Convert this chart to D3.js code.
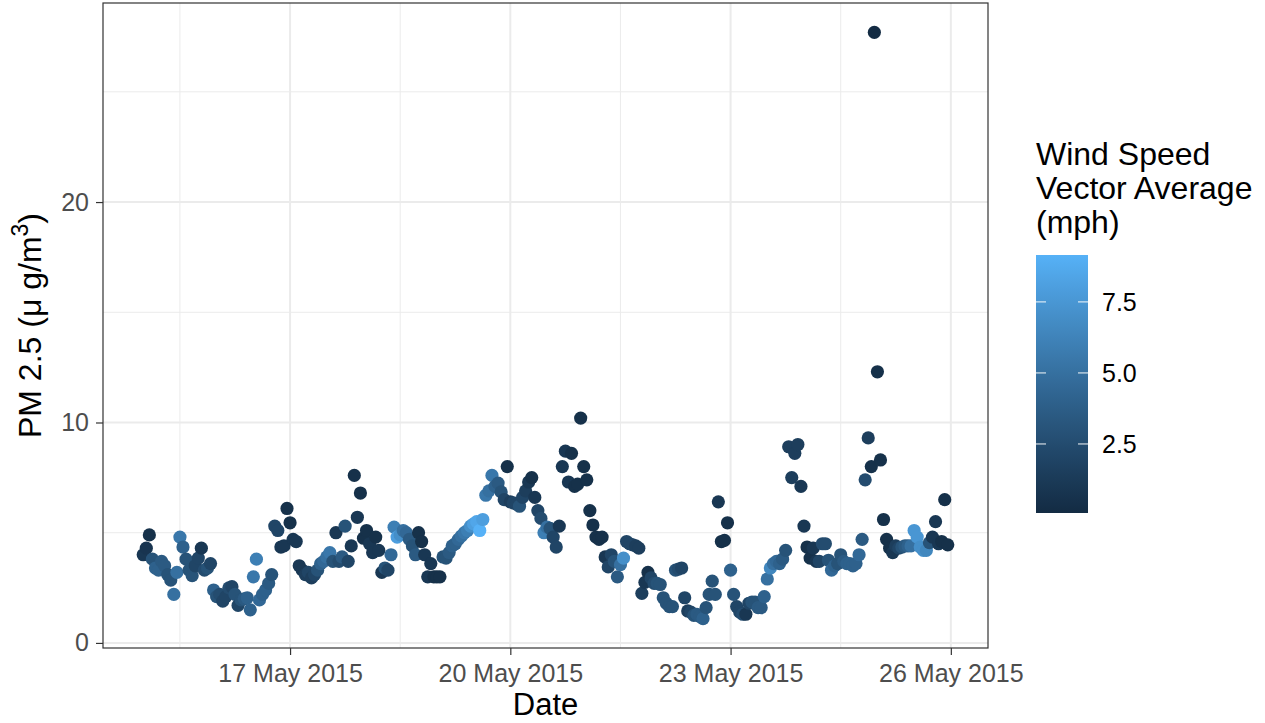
<!DOCTYPE html>
<html>
<head>
<meta charset="utf-8">
<script src="https://cdn.jsdelivr.net/npm/d3@7"></script>
<style>
  body { margin: 0; background: #fff; }
  text { font-family: "Liberation Sans", Arial, sans-serif; }
</style>
</head>
<body>
<svg id="chart"></svg>
<script>
// hourly readings starting at 15 May 2015 00:00
let startTime = new Date(2015, 4, 15, 0, 0);

let pm25 = [
  4.0,4.3,4.9,3.8,3.4,3.3,3.7,3.5,3.1,2.85,
  2.2,3.2,4.8,4.35,3.8,3.3,3.05,3.5,3.85,4.3,
  3.3,3.4,3.6,2.4,2.1,2.2,1.9,2.1,2.5,2.55,
  2.2,1.7,1.95,2.0,2.05,1.5,3.0,3.8,1.95,2.2,
  2.4,2.7,3.1,5.3,5.1,4.35,4.4,6.1,5.45,4.7,
  4.6,3.5,3.3,3.1,3.2,2.95,3.1,3.3,3.6,3.7,
  3.9,4.1,3.7,5.0,3.7,3.9,5.3,3.7,4.4,7.6,
  5.7,6.8,4.75,5.1,4.5,4.1,4.8,4.2,3.2,3.4,
  3.3,4.0,5.25,4.8,4.9,5.1,5.0,4.7,4.4,4.0,
  5.0,4.6,4.0,3.0,3.6,3.0,3.0,3.0,3.9,3.85,
  4.1,4.4,4.5,4.7,4.85,5.0,5.1,5.3,5.4,5.5,
  5.1,5.6,6.7,6.9,7.6,7.1,7.25,6.85,6.5,8.0,
  6.4,6.35,6.3,6.2,6.6,6.9,7.3,7.5,6.6,6.0,
  5.65,5.0,5.25,5.2,4.8,4.35,5.3,8.0,8.7,7.3,
  8.6,7.1,7.2,10.2,8.0,7.4,6.0,5.35,4.8,4.7,
  4.8,3.9,3.45,4.0,3.7,3.0,3.55,3.85,4.6,4.5,
  4.45,4.4,4.3,2.25,2.75,3.2,2.95,2.7,2.7,2.65,
  2.05,1.8,1.65,1.65,3.3,3.35,3.4,2.05,1.45,1.4,
  1.25,1.3,1.2,1.1,1.6,2.2,2.8,2.2,6.4,4.6,
  4.65,5.45,3.3,2.2,1.65,1.4,1.3,1.3,1.8,1.85,
  1.85,1.6,1.6,2.1,2.9,3.4,3.6,3.7,3.6,3.8,
  4.2,8.9,7.5,8.6,9.0,7.1,5.3,4.35,3.85,4.3,
  3.7,3.7,4.5,4.5,3.75,3.3,3.5,3.6,4.0,3.7,
  3.6,3.6,3.5,3.6,4.0,4.7,7.4,9.3,8.0,27.7,
  12.3,8.3,5.6,4.7,4.3,4.1,4.4,4.3,4.35,4.4,
  4.4,4.4,5.1,4.8,4.35,4.2,4.2,4.55,4.8,5.5,
  4.5,4.6,6.5,4.45
];

let wind = [
  1,0.8,0.5,3,4,4,3.5,3.5,3,3,
  5,5,5.5,4,3,3,3,2,2,1,
  2.5,3,2,4,3,2.5,2,2,2.5,2,
  3,2,3,3.5,4,4,5.5,6,4.5,4,
  4,3.5,3,2,2,1,1,0.5,0.5,1,
  1,1,1,1.5,2,1.5,2,3,4,4.5,
  5,5.5,3,1,2.5,3.5,3,2,1,0.5,
  1,0.5,0.5,0.5,1,1,0.5,1,1,3,
  2,4.5,6,8,7,5,4.5,3.5,3,3.5,
  0.5,0.5,1,1,1,0.5,0.5,0.5,3,3,
  3.5,4,4,4.5,5,5.5,6,7,8,8.5,
  9.15,8,5.5,5,5.5,4,3.5,3,2,0.5,
  1.5,2,2,3,2,1.5,1,0.5,1,2,
  2.5,6,5,3,2,2,1,1,1,1,
  0.5,0.5,0.5,0.5,0.5,0.5,0.5,0.5,0.5,0.5,
  0.5,1,2,2,3,3.5,5,7,2,2,
  2,1.5,1.5,1.5,1,0.5,2,2.5,3,3,
  3,3,3,3,3,2.5,2,2,1.5,2,
  3,3.5,3.5,4,3,3,3,3,1,0.5,
  0.5,0.5,4,3,2,2,2.5,1,2,3,
  3,3.5,3.5,4,5,6.5,5,4.5,4,3.5,
  3,1.5,1.5,1.5,1.5,1,1,0.5,0.5,1,
  1,2,2.5,2.5,3,4.5,4,3,3,3.5,
  4,4,4,4,4.5,3.5,2.5,1.5,0.5,0.07,
  0.5,0.5,0.5,0.5,0.5,1,1.5,2,3,3.5,
  4,5,7.5,7.5,7,7,6.5,3,1,1,
  1,0.5,0.5,0.5
];

let xTickDates = [new Date(2015,4,17), new Date(2015,4,20), new Date(2015,4,23), new Date(2015,4,26)];
let xMinorDates = [new Date(2015,4,15,12), new Date(2015,4,18,12), new Date(2015,4,21,12), new Date(2015,4,24,12)];
let yTicks = [0, 10, 20];
let yMinor = [5, 15, 25];
let windTicks = [2.5, 5.0, 7.5];

let width = 1265, height = 723;
let panel = {left: 103, right: 988, top: 3, bottom: 648};
let tickFont = 25, titleFont = 31;

let svg = d3.select("#chart")
  .attr("width", width)
  .attr("height", height);

svg.append("rect").attr("width", width).attr("height", height).attr("fill", "white");

let points = pm25.map(function(v, i) {
  return {t: d3.timeHour.offset(startTime, i), pm: v, w: wind[i]};
});

// ggplot style 5% expansion
let tExt = d3.extent(points, d => d.t);
let tPad = (tExt[1] - tExt[0]) * 0.05;
let x = d3.scaleTime()
  .domain([new Date(+tExt[0] - tPad), new Date(+tExt[1] + tPad)])
  .range([panel.left, panel.right]);

let yExt = d3.extent(pm25);
let yPad = (yExt[1] - yExt[0]) * 0.05;
let y = d3.scaleLinear()
  .domain([yExt[0] - yPad, yExt[1] + yPad])
  .range([panel.bottom, panel.top]);

let wExt = d3.extent(wind);
let color = d3.scaleLinear()
  .domain(wExt)
  .range(["#132B43", "#56B1F7"])
  .interpolate(d3.interpolateLab);

// grid
let grid = svg.append("g");
grid.selectAll(".ymin").data(yMinor).enter().append("line")
  .attr("x1", panel.left).attr("x2", panel.right)
  .attr("y1", d => y(d)).attr("y2", d => y(d))
  .attr("stroke", "#EBEBEB").attr("stroke-width", 1);
grid.selectAll(".xmin").data(xMinorDates).enter().append("line")
  .attr("y1", panel.top).attr("y2", panel.bottom)
  .attr("x1", d => x(d)).attr("x2", d => x(d))
  .attr("stroke", "#EBEBEB").attr("stroke-width", 1);
grid.selectAll(".ymaj").data(yTicks).enter().append("line")
  .attr("x1", panel.left).attr("x2", panel.right)
  .attr("y1", d => y(d)).attr("y2", d => y(d))
  .attr("stroke", "#EBEBEB").attr("stroke-width", 2);
grid.selectAll(".xmaj").data(xTickDates).enter().append("line")
  .attr("y1", panel.top).attr("y2", panel.bottom)
  .attr("x1", d => x(d)).attr("x2", d => x(d))
  .attr("stroke", "#EBEBEB").attr("stroke-width", 2);

// points
svg.append("g").selectAll("circle")
  .data(points)
  .enter()
  .append("circle")
  .attr("cx", d => x(d.t))
  .attr("cy", d => y(d.pm))
  .attr("r", 6.6)
  .attr("fill", d => color(d.w));

// panel border
svg.append("rect")
  .attr("x", panel.left).attr("y", panel.top)
  .attr("width", panel.right - panel.left)
  .attr("height", panel.bottom - panel.top)
  .attr("fill", "none")
  .attr("stroke", "#333333")
  .attr("stroke-width", 1.2);

// axes
let yAxis = svg.append("g")
  .attr("transform", "translate(" + panel.left + ",0)")
  .call(d3.axisLeft(y).tickValues(yTicks).tickSize(7).tickPadding(7).tickFormat(d3.format("d")));
let xAxis = svg.append("g")
  .attr("transform", "translate(0," + panel.bottom + ")")
  .call(d3.axisBottom(x).tickValues(xTickDates).tickSize(7).tickPadding(9).tickFormat(d3.timeFormat("%d %b %Y")));

[yAxis, xAxis].forEach(function(a) {
  a.select(".domain").remove();
  a.selectAll(".tick line").attr("stroke", "#333333").attr("stroke-width", 1.2);
  a.selectAll(".tick text")
    .attr("fill", "#4D4D4D")
    .attr("font-size", tickFont)
    .attr("font-family", "Liberation Sans, Arial, sans-serif");
});

// axis titles
svg.append("text")
  .attr("x", (panel.left + panel.right) / 2)
  .attr("y", 715)
  .attr("text-anchor", "middle")
  .attr("font-size", titleFont)
  .attr("fill", "black")
  .text("Date");

let yTitle = svg.append("text")
  .attr("transform", "translate(41," + ((panel.top + panel.bottom) / 2) + ") rotate(-90)")
  .attr("text-anchor", "middle")
  .attr("font-size", 32)
  .attr("fill", "black");
yTitle.append("tspan").text("PM 2.5 (\u03bc g/m");
yTitle.append("tspan").attr("font-size", 23).attr("dy", -13).text("3");
yTitle.append("tspan").attr("dy", 13).text(")");

// legend
let legend = {x: 1036, top: 255, bottom: 513, w: 52};
let legendTitle = ["Wind Speed", "Vector Average", "(mph)"];
svg.selectAll(".ltitle").data(legendTitle).enter().append("text")
  .attr("x", legend.x)
  .attr("y", (d, i) => 165 + i * 34)
  .attr("font-size", 32)
  .attr("fill", "black")
  .text(d => d);

let defs = svg.append("defs");
let grad = defs.append("linearGradient")
  .attr("id", "windgrad")
  .attr("x1", 0).attr("y1", 1).attr("x2", 0).attr("y2", 0);
d3.range(0, 1.0001, 0.05).forEach(function(f) {
  grad.append("stop")
    .attr("offset", f)
    .attr("stop-color", color(wExt[0] + f * (wExt[1] - wExt[0])));
});

svg.append("rect")
  .attr("x", legend.x).attr("y", legend.top)
  .attr("width", legend.w).attr("height", legend.bottom - legend.top)
  .attr("fill", "url(#windgrad)");

let wy = d3.scaleLinear().domain(wExt).range([legend.bottom, legend.top]);

windTicks.forEach(function(t) {
  svg.append("line")
    .attr("x1", legend.x).attr("x2", legend.x + 10)
    .attr("y1", wy(t)).attr("y2", wy(t))
    .attr("stroke", "white").attr("stroke-opacity", 0.8).attr("stroke-width", 1.2);
  svg.append("line")
    .attr("x1", legend.x + legend.w - 10).attr("x2", legend.x + legend.w)
    .attr("y1", wy(t)).attr("y2", wy(t))
    .attr("stroke", "white").attr("stroke-opacity", 0.8).attr("stroke-width", 1.2);
  svg.append("text")
    .attr("x", legend.x + legend.w + 14)
    .attr("y", wy(t))
    .attr("dy", "0.35em")
    .attr("font-size", tickFont)
    .attr("fill", "black")
    .text(d3.format(".1f")(t));
});
</script>
</body>
</html>
